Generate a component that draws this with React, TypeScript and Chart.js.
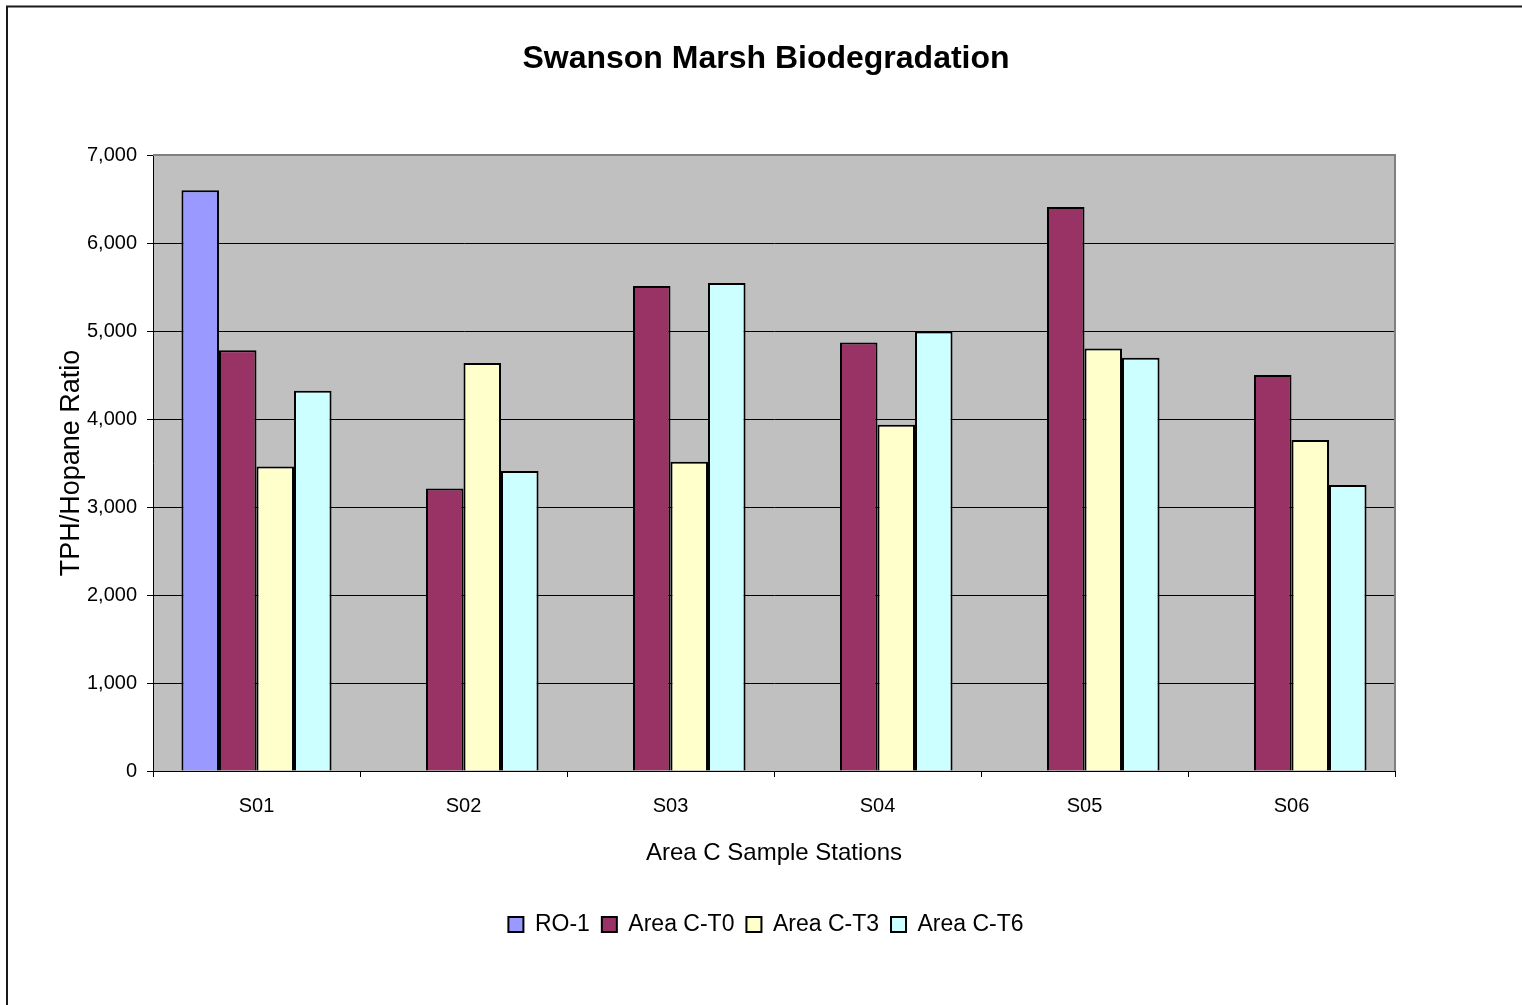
import React, { useEffect, useRef } from "react";
import { Chart, registerables } from "chart.js";

Chart.register(...registerables);

const categories = ["S01", "S02", "S03", "S04", "S05", "S06"];
const seriesNames = ["RO-1", "Area C-T0", "Area C-T3", "Area C-T6"];
const ro1 = [6600, null, null, null, null, null];
const areaCT0 = [4780, 3210, 5510, 4870, 6410, 4500];
const areaCT3 = [3460, 4635, 3515, 3935, 4800, 3760];
const areaCT6 = [4320, 3410, 5545, 4995, 4695, 3250];
const seriesColors = ["#9999FF", "#993366", "#FFFFCC", "#CCFFFF"];
const yTicks = [0, 1000, 2000, 3000, 4000, 5000, 6000, 7000];

const chartTitle = "Swanson Marsh Biodegradation";
const xTitle = "Area C Sample Stations";
const yTitle = "TPH/Hopane Ratio";

const REG = '"Liberation Sans", Arial, sans-serif';

const framePlugin = {
  id: "framePlugin",
  beforeDraw(chart: any) {
    const { ctx, chartArea } = chart;
    ctx.save();
    ctx.fillStyle = "#ffffff";
    ctx.fillRect(0, 0, chart.width, chart.height);
    ctx.fillStyle = "#C0C0C0";
    ctx.fillRect(chartArea.left, chartArea.top, chartArea.right - chartArea.left, chartArea.bottom - chartArea.top);
    ctx.restore();
  },
  beforeDatasetsDraw(chart: any) {
    const { ctx, chartArea } = chart;
    ctx.save();
    ctx.strokeStyle = "#808080";
    ctx.lineWidth = 2;
    ctx.beginPath();
    ctx.moveTo(chartArea.left, chartArea.top);
    ctx.lineTo(chartArea.right, chartArea.top);
    ctx.lineTo(chartArea.right, chartArea.bottom);
    ctx.stroke();
    ctx.restore();
  },
  afterDraw(chart: any) {
    const { ctx } = chart;
    ctx.save();
    ctx.strokeStyle = "#1a1a1a";
    ctx.lineWidth = 2;
    ctx.beginPath();
    ctx.moveTo(7, chart.height);
    ctx.lineTo(7, 6.5);
    ctx.lineTo(chart.width, 6.5);
    ctx.stroke();
    ctx.restore();
  },
};

export default function App() {
  const ref = useRef<HTMLCanvasElement | null>(null);
  useEffect(() => {
    if (!ref.current) return;
    const seriesData = [ro1, areaCT0, areaCT3, areaCT6];
    const chart = new Chart(ref.current, {
      type: "bar",
      data: {
        labels: categories,
        datasets: seriesNames.map((name, i) => ({
          label: name,
          data: seriesData[i] as any,
          backgroundColor: seriesColors[i],
          borderColor: "#000000",
          borderWidth: 2,
          categoryPercentage: 0.725,
          barPercentage: 1,
          yAxisID: "y",
        })),
      },
      options: {
        responsive: false,
        animation: false,
        layout: { padding: { left: 10, right: 0, top: 0, bottom: 59 } },
        plugins: {
          title: {
            display: true,
            text: chartTitle,
            color: "#000",
            font: { family: REG, size: 32, weight: "bold", lineHeight: 1.2 },
            padding: { top: 40, bottom: 76.6 },
          },
          legend: {
            display: true,
            position: "bottom",
            labels: {
              color: "#000",
              boxWidth: 15,
              boxHeight: 15,
              padding: 12,
              font: { family: REG, size: 23 },
            },
          },
          tooltip: { enabled: false },
        },
        scales: {
          x: {
            afterFit: (s: any) => {
              s.height = 130;
            },
            grid: {
              display: true,
              drawOnChartArea: false,
              offset: true,
              color: "#000",
              tickColor: "#000",
              tickLength: 6,
            },
            border: { color: "#000", width: 1 },
            ticks: { color: "#000", padding: 17, font: { family: REG, size: 20 } },
            title: {
              display: true,
              text: xTitle,
              color: "#000",
              font: { family: REG, size: 24, lineHeight: 1.2 },
              padding: { top: 0, bottom: 33 },
            },
          },
          y: {
            position: "left",
            min: 0,
            max: 7000,
            afterFit: (s: any) => {
              s.width = 143;
            },
            afterBuildTicks: (s: any) => {
              s.ticks = yTicks.map((v) => ({ value: v }));
            },
            grid: {
              color: (c: any) => (c.tick && c.tick.value === 7000 ? "#808080" : "#000"),
              tickColor: "#000",
              tickLength: 6,
              lineWidth: 1,
            },
            border: { color: "#000", width: 1 },
            ticks: {
              color: "#000",
              padding: 10,
              font: { family: REG, size: 20 },
              callback: (v: any) => Number(v).toLocaleString("en-US"),
            },
            title: {
              display: true,
              text: yTitle,
              color: "#000",
              font: { family: REG, size: 27, lineHeight: 1.2 },
              padding: { top: 45, bottom: 0 },
            },
          },
          yRight: {
            type: "linear",
            position: "right",
            display: true,
            min: 0,
            max: 7000,
            afterFit: (s: any) => {
              s.width = 127;
            },
            grid: { display: false, drawOnChartArea: false },
            border: { display: false },
            ticks: { display: false },
          },
        },
      },
      plugins: [framePlugin],
    });
    return () => chart.destroy();
  }, []);
  return (
    <div style={{ position: "fixed", left: 0, top: 0, width: 1522, height: 1005, background: "#fff" }}>
      <canvas ref={ref} width={1522} height={1005} style={{ display: "block" }} />
    </div>
  );
}
